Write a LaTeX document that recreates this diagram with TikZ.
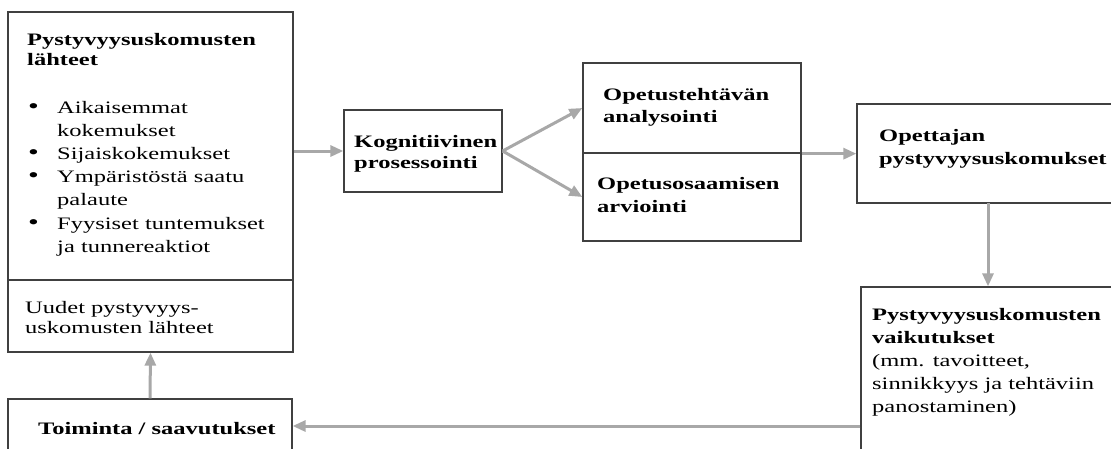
\documentclass[tikz,border=0pt]{standalone}
\usepackage{fontspec}
\setmainfont[FakeStretch=1.4]{Liberation Serif}
\usetikzlibrary{arrows.meta,fit}
\definecolor{boxc}{HTML}{404040}
\definecolor{arrc}{HTML}{A8A8A8}
\newcommand\mybul{{\fontsize{22}{22}\selectfont •}}
\begin{document}
\begin{tikzpicture}[x=1pt,y=-1pt,
  box/.style={draw=boxc, line width=1.3pt, inner sep=0pt},
  conn/.style={draw=arrc, line width=3pt, -{Triangle[length=13pt,width=11pt]}},
  txt/.style={anchor=base west, inner sep=0pt, align=left, font=\fontsize{17.5}{21}\selectfont}]
\useasboundingbox (0,0) rectangle (1111,448);
\clip (0,0) rectangle (1111,448);
% corner coordinates
\coordinate (a1) at (8,12);   \coordinate (a2) at (293,280);
\coordinate (b1) at (8,280);  \coordinate (b2) at (293,352);
\coordinate (k1) at (344,110); \coordinate (k2) at (502,192);
\coordinate (o1) at (583,63);  \coordinate (o2) at (801,153);
\coordinate (p1) at (583,153); \coordinate (p2) at (801,241);
\coordinate (t1) at (857,104); \coordinate (t2) at (1140,203);
\coordinate (v1) at (861,287); \coordinate (v2) at (1140,470);
\coordinate (s1) at (8,399);   \coordinate (s2) at (292,470);
% boxes
\node[box, fit=(a1)(a2)] (srcA) {};
\node[box, fit=(b1)(b2)] (srcB) {};
\node[box, fit=(k1)(k2)] (kog) {};
\node[box, fit=(o1)(o2)] (opA) {};
\node[box, fit=(p1)(p2)] (opB) {};
\node[box, fit=(t1)(t2)] (opet) {};
\node[box, fit=(v1)(v2)] (vaik) {};
\node[box, fit=(s1)(s2)] (toim) {};
% texts (anchored at the baseline of the last line)
\node[txt, font=\fontsize{17.5}{20}\selectfont\bfseries] (srcAt) at (27,65) {Pystyvyysuskomusten\\lähteet};
\node[txt] (srcAl) at (28,113) {\fontsize{17.5}{23.2}\selectfont
  \begin{tabular}[t]{@{}p{29pt}@{}l@{}}
  \mybul & Aikaisemmat\\
    & kokemukset\\
  \mybul & Sijaiskokemukset\\
  \mybul & Ympäristöstä saatu\\
    & palaute\\
  \mybul & Fyysiset tuntemukset\\
    & ja tunnereaktiot
  \end{tabular}};
\node[txt, font=\fontsize{17.5}{20}\selectfont] (srcBt) at (25,333) {Uudet pystyvyys-\\uskomusten lähteet};
\node[txt, font=\fontsize{17.5}{21}\selectfont\bfseries] (kogt) at (354,168) {Kognitiivinen\\prosessointi};
\node[txt, font=\fontsize{17.5}{22}\selectfont\bfseries] (opAt) at (603,122) {Opetustehtävän\\analysointi};
\node[txt, font=\fontsize{17.5}{23}\selectfont\bfseries] (opBt) at (597,212) {Opetusosaamisen\\arviointi};
\node[txt, font=\fontsize{17.5}{23}\selectfont\bfseries] (opett) at (879,164) {Opettajan\\pystyvyysuskomukset};
\node[txt, font=\fontsize{17.5}{23}\selectfont] (vaikt) at (872,412) {\textbf{Pystyvyysuskomusten}\\\textbf{vaikutukset}\\(mm. tavoitteet,\\sinnikkyys ja tehtäviin\\panostaminen)};
\node[txt, font=\fontsize{17.5}{21}\selectfont\bfseries] (toimt) at (38,434) {Toiminta / saavutukset};
% connectors
\coordinate (vk) at (861,426);
\coordinate (dn) at (988,203);
\draw[conn] (srcA.east |- kog.west) -- (kog.west);
\draw[conn] (kog.east) -- (opA.west);
\draw[conn] (kog.east) -- (opB.west);
\draw[conn] (opA.south east) -- (opet.west |- opA.south east);
\draw[conn] (dn) -- (dn |- vaik.north);
\draw[conn] (vaik.west |- vk) -- (toim.east |- vk);
\draw[conn] (toim.north) -- (srcB.south);
\end{tikzpicture}
\end{document}
